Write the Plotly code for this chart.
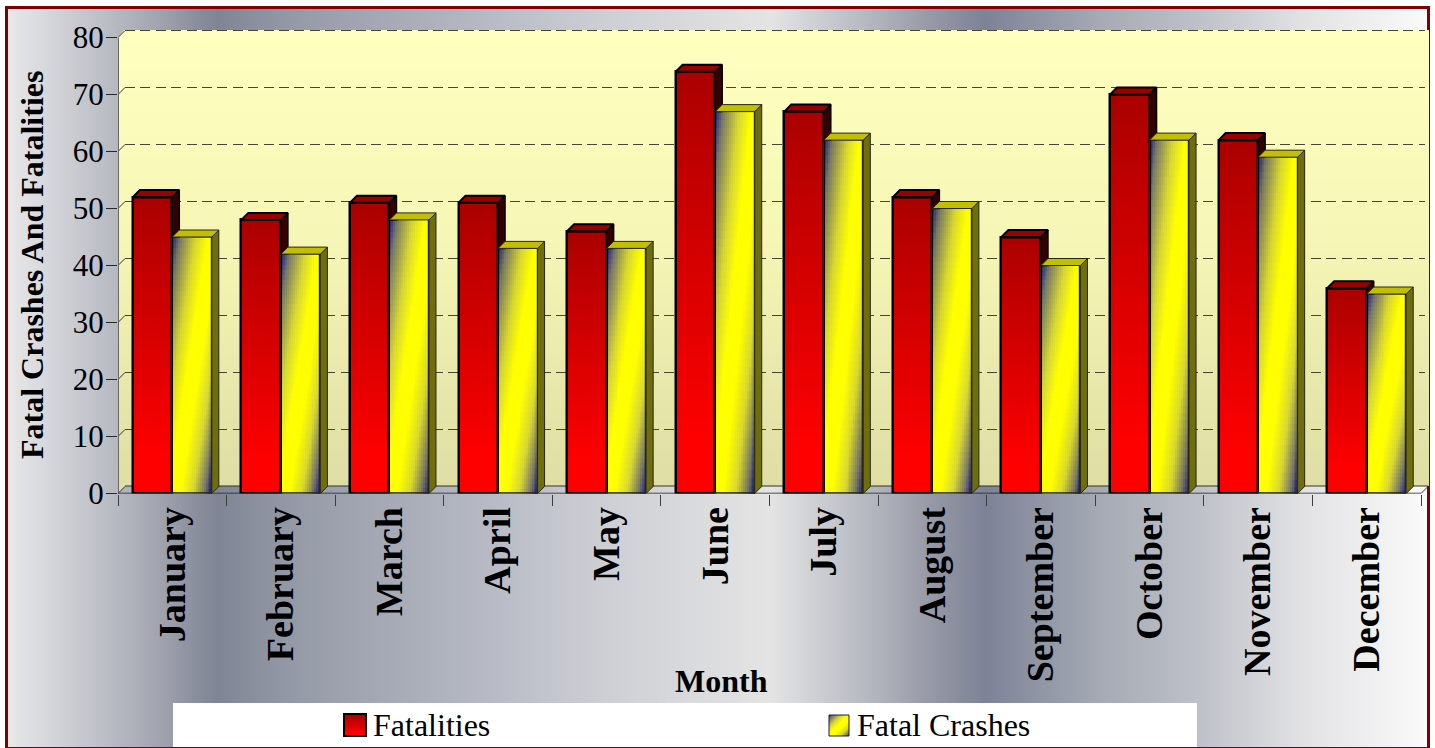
import numpy as np
import plotly.graph_objects as go

months = ["January", "February", "March", "April", "May", "June", "July",
          "August", "September", "October", "November", "December"]
fatalities = [52, 48, 51, 51, 46, 74, 67, 52, 45, 70, 62, 36]
fatal_crashes = [45, 42, 48, 43, 43, 67, 62, 50, 40, 62, 59, 35]
series_names = ["Fatalities", "Fatal Crashes"]
y_ticks = [0, 10, 20, 30, 40, 50, 60, 70, 80]
x_title = "Month"
y_title = "Fatal Crashes And Fatalities"

W, H = 1435, 748
FONT = "Liberation Serif"
FX0, FX1, FY0, FY1 = 118, 1428, 30.5, 493.5     # plot box in pixels
DEPTH = 7
PX_PER_UNIT = 5.7
PX_PER_CAT = 108.58
DY = DEPTH / PX_PER_UNIT
DX = DEPTH / PX_PER_CAT
BAR_W = 0.364


def dom_x(a, b):
    return [a / W, b / W]


def dom_y(top, bot):
    return [1 - bot / H, 1 - top / H]


def rgb(c):
    return "rgb(%d,%d,%d)" % tuple(int(round(v)) for v in c)


def ramp(t, stops):
    ts = [s[0] for s in stops]
    return [np.interp(t, ts, [s[1][k] for s in stops]) for k in range(3)]


page_stops = [(8, (232, 232, 234)), (100, (190, 192, 200)), (170, (155, 158, 170)), (200, (135, 140, 155)),
              (218, (128, 133, 150)), (260, (140, 145, 160)), (300, (150, 155, 168)), (500, (185, 188, 198)),
              (600, (205, 206, 212)), (770, (228, 228, 228)), (850, (190, 192, 200)),
              (930, (150, 153, 166)), (985, (125, 131, 150)), (1100, (165, 170, 180)),
              (1200, (190, 193, 200)), (1300, (225, 225, 228)), (1426, (250, 250, 250))]
wall_stops = [(0, (255, 255, 192)), (0.45, (246, 246, 182)), (1, (222, 222, 165))]
red_stops = [(0, (170, 0, 0)), (0.9, (255, 0, 0)), (1, (255, 0, 0))]
yel_stops = [(0, (25, 25, 130)), (0.10, (120, 120, 100)), (0.30, (215, 215, 50)), (0.45, (255, 255, 0)),
             (0.60, (255, 255, 0)), (0.76, (215, 215, 50)), (0.90, (120, 120, 100)), (1, (25, 25, 130))]


def scale(stops):
    lo, hi = stops[0][0], stops[-1][0]
    return [[(s[0] - lo) / (hi - lo), rgb(s[1])] for s in stops]


fig = go.Figure()

# ---- page and wall gradients, pixel-addressed background subplot (x / y are cell edges)
page_edges = np.arange(8, 1427, 2)
page_mid = (page_edges[:-1] + page_edges[1:]) / 2
fig.add_trace(go.Heatmap(x=page_edges, y=[9, 747], z=[page_mid], colorscale=scale(page_stops),
                         zmin=8, zmax=1426, showscale=False, hoverinfo="skip", xaxis="x", yaxis="y"))
wall_edges = np.arange(30, 487, 3)
fig.add_trace(go.Heatmap(x=[118, 1429], y=wall_edges, z=[[(v - 30) / 456] for v in wall_edges[:-1]],
                         colorscale=scale(wall_stops), zmin=0, zmax=1, showscale=False,
                         hoverinfo="skip", xaxis="x", yaxis="y"))


def bg_poly(xs, ys, fill, line=None, width=0):
    fig.add_trace(go.Scatter(x=xs, y=ys, mode="lines", fill="toself", fillcolor=fill,
                             line=dict(color=line or fill, width=width), hoverinfo="skip",
                             showlegend=False, xaxis="x", yaxis="y"))


bg_poly([118, 125, 118, 118], [29, 29, 37, 29], "rgb(178,180,192)")
bg_poly([118, 125, 118, 118], [486, 486, 493, 486], "rgb(222,222,165)")
bg_poly([173, 1197, 1197, 173, 173], [703, 703, 747, 747, 703], "white")
fig.add_trace(go.Scatter(x=[125, 1428], y=[486, 486], mode="lines",
                         line=dict(color="rgb(50,50,40)", width=1), hoverinfo="skip",
                         showlegend=False, xaxis="x", yaxis="y"))

# ---- gradient bars, all derived from the series values
N_ROWS = 40
rx, rb, ry, rc = [], [], [], []
for j in range(N_ROWS):
    for m, v in zip(months, fatalities):
        rx.append(m)
        rb.append(v * j / N_ROWS)
        ry.append(v * (1 - j / N_ROWS))
        rc.append(rgb(ramp(1 - j / N_ROWS, red_stops)))
fig.add_trace(go.Bar(x=rx, y=ry, base=rb, width=BAR_W, offset=-BAR_W,
                     marker=dict(color=rc, line=dict(width=0)), hoverinfo="skip",
                     showlegend=False, xaxis="x3", yaxis="y3"))

NU, NV = 20, 48
yx, yb, yy, yo, yw, yc = [], [], [], [], [], []
for j in range(NV):
    for i in range(NU):
        u, vv = (i + 0.5) / NU, 1 - (j + 0.5) / NV
        col = rgb(ramp((u + vv) / 2, yel_stops))
        for m, v in zip(months, fatal_crashes):
            yx.append(m)
            yb.append(v * j / NV)
            yy.append(v * (1 - j / NV))
            yo.append(BAR_W * i / NU)
            yw.append(BAR_W * (1 - i / NU))
            yc.append(col)
fig.add_trace(go.Bar(x=yx, y=yy, base=yb, width=yw, offset=yo,
                     marker=dict(color=yc, line=dict(width=0)), hoverinfo="skip",
                     showlegend=False, xaxis="x3", yaxis="y3"))

fig.add_trace(go.Bar(x=months, y=fatalities, name=series_names[0], width=BAR_W, offset=-BAR_W,
                     marker=dict(color="rgba(0,0,0,0)", line=dict(color="black", width=2.5)),
                     showlegend=False, xaxis="x3", yaxis="y3"))
fig.add_trace(go.Bar(x=months, y=fatal_crashes, name=series_names[1], width=BAR_W, offset=0,
                     marker=dict(color="rgba(0,0,0,0)", line=dict(color="rgb(40,40,20)", width=1.2)),
                     showlegend=False, xaxis="x3", yaxis="y3"))


# ---- 3-D faces, built from the same values on a linear twin of the category axis
def faces(values, left, right, lower=None):
    tx, ty, sx, sy = [], [], [], []
    for k, v in enumerate(values):
        a, b = k + left, k + right
        tx += [a, a + DX, b + DX, b, a, None]
        ty += [v, v + DY, v + DY, v, v, None]
        low = lower[k] if lower is not None else 0
        low2 = low if lower is not None else DY
        sx += [b, b + DX, b + DX, b, b, None]
        sy += [v, v + DY, low2, low, v, None]
    return tx, ty, sx, sy


def face_trace(xs, ys, fill, line, width):
    fig.add_trace(go.Scatter(x=xs, y=ys, mode="lines", fill="toself", fillcolor=fill,
                             line=dict(color=line, width=width), hoverinfo="skip",
                             cliponaxis=False, showlegend=False, xaxis="x6", yaxis="y3"))


rt_x, rt_y, rs_x, rs_y = faces(fatalities, -BAR_W, 0, fatal_crashes)
yt_x, yt_y, ys_x, ys_y = faces(fatal_crashes, 0, BAR_W)
face_trace(rs_x, rs_y, "rgb(52,0,0)", "black", 1.5)
face_trace(rt_x, rt_y, "rgb(155,0,0)", "black", 2)
face_trace(ys_x, ys_y, "rgb(110,110,15)", "rgb(40,40,20)", 1)
face_trace(yt_x, yt_y, "rgb(195,190,0)", "rgb(40,40,20)", 1)

# axis edge lines and the little diagonals joining ticks to the back wall
dx_, dy_ = [], []
for v in y_ticks:
    dx_ += [-0.5, -0.5 + DX, None]
    dy_ += [v, v + DY, None]
dx_ += [11.5, 11.5 + DX, None]
dy_ += [0, DY, None]
fig.add_trace(go.Scatter(x=dx_, y=dy_, mode="lines", line=dict(color="rgb(50,50,40)", width=1),
                         hoverinfo="skip", cliponaxis=False, showlegend=False, xaxis="x6", yaxis="y3"))
fig.add_trace(go.Scatter(x=[-0.5, -0.5], y=[0, 80], mode="lines", line=dict(color="rgb(105,105,100)", width=2),
                         hoverinfo="skip", cliponaxis=False, showlegend=False, xaxis="x6", yaxis="y3"))
fig.add_trace(go.Scatter(x=[-0.5, 11.5], y=[0, 0], mode="lines", line=dict(color="rgb(30,30,30)", width=1.5),
                         hoverinfo="skip", cliponaxis=False, showlegend=False, xaxis="x6", yaxis="y3"))

# ---- legend swatches
sw = np.linspace(0, 1, 22)
fig.add_trace(go.Heatmap(x=sw, y=sw, z=[[1 - b] * 22 for b in sw], colorscale=scale(red_stops),
                         zmin=0, zmax=1, showscale=False, hoverinfo="skip", xaxis="x4", yaxis="y4"))
fig.add_trace(go.Heatmap(x=sw, y=sw, z=[[(a + 1 - b) / 2 for a in sw] for b in sw],
                         colorscale=scale(yel_stops), zmin=0, zmax=1, showscale=False,
                         hoverinfo="skip", xaxis="x5", yaxis="y5"))

hidden = dict(visible=False, showgrid=False, zeroline=False, fixedrange=True, automargin=False)
tick_font = dict(family=FONT, size=31, color="black")
label_font = dict(family=FONT, size=38, color="black", weight=700)
title_font = dict(family=FONT, size=32, color="black", weight=700)
legend_font = dict(family=FONT, size=32, color="black")

fig.update_layout(
    width=W, height=H, margin=dict(l=0, r=0, t=0, b=0, autoexpand=False), autosize=False,
    paper_bgcolor="white", plot_bgcolor="rgba(0,0,0,0)", barmode="overlay", bargap=0,
    showlegend=False, font=dict(family=FONT, color="black"),
    xaxis=dict(hidden, domain=[0, 1], range=[0, W]),
    yaxis=dict(hidden, domain=[0, 1], range=[H, 0]),
    xaxis2=dict(hidden, visible=True, showticklabels=False, ticks="", showline=False,
                domain=dom_x(125, 1425), range=[0, 1], anchor="y2"),
    yaxis2=dict(fixedrange=True, automargin=False, domain=dom_y(27, 486), range=[0, 80 * 459 / 456],
                tickvals=y_ticks, anchor="x2",
                showticklabels=False, ticks="", showline=False, zeroline=False, showgrid=True,
                gridcolor="rgb(70,70,50)", gridwidth=1, griddash="10px,5.4px"),
    xaxis3=dict(type="category", categoryorder="array", categoryarray=months, tickson="boundaries",
                automargin=False,
                domain=dom_x(FX0, FX1), range=[-0.5, 11.5 + DX], anchor="y3", showgrid=False,
                zeroline=False, showline=False, ticks="outside", ticklen=11, tickwidth=1,
                tickcolor="rgb(60,60,60)", tickangle=-90, tickfont=label_font, fixedrange=True,
                ticklabelstandoff=5),
    yaxis3=dict(automargin=False, domain=dom_y(FY0, FY1), range=[0, 80 + DY], anchor="x3", tickvals=y_ticks,
                showgrid=False, zeroline=False, showline=False, ticks="outside", ticklen=11,
                tickwidth=1, tickcolor="rgb(40,40,40)", tickfont=tick_font, fixedrange=True,
                ticklabelstandoff=-4),
    xaxis6=dict(hidden, overlaying="x3", domain=dom_x(FX0, FX1), range=[-0.5, 11.5 + DX], anchor="y3"),
    xaxis4=dict(hidden, domain=dom_x(344, 366), range=[0, 1], anchor="y4"),
    yaxis4=dict(hidden, domain=dom_y(714, 736), range=[0, 1], autorange=False, anchor="x4"),
    xaxis5=dict(hidden, domain=dom_x(829, 849), range=[0, 1], anchor="y5"),
    yaxis5=dict(hidden, domain=dom_y(715, 736), range=[0, 1], anchor="x5"),
    shapes=[
        dict(type="rect", xref="paper", yref="paper", x0=6.5 / W, x1=1428.5 / W, y0=1 - 748.5 / H, y1=1 - 7.5 / H,
             line=dict(color="rgb(128,0,0)", width=3), layer="below"),
        dict(type="rect", xref="paper", yref="paper", x0=344 / W, x1=366 / W, y0=1 - 736 / H, y1=1 - 714 / H,
             line=dict(color="black", width=2), layer="above"),
        dict(type="rect", xref="paper", yref="paper", x0=829 / W, x1=849 / W, y0=1 - 736 / H, y1=1 - 715 / H,
             line=dict(color="rgb(30,30,50)", width=1), layer="above"),
    ],
    annotations=[
        dict(text=x_title, xref="paper", yref="paper", x=721 / W, y=1 - 681 / H, showarrow=False,
             font=title_font, xanchor="center", yanchor="middle"),
        dict(text=y_title, xref="paper", yref="paper", x=32 / W, y=1 - 265 / H, showarrow=False,
             font=title_font, xanchor="center", yanchor="middle", textangle=-90),
        dict(text=series_names[0], xref="paper", yref="paper", x=371 / W, y=1 - 725 / H, showarrow=False,
             font=legend_font, xanchor="left", yanchor="middle"),
        dict(text=series_names[1], xref="paper", yref="paper", x=855 / W, y=1 - 725 / H, showarrow=False,
             font=legend_font, xanchor="left", yanchor="middle"),
    ],
)
# grid subplot needs one trace to exist
fig.add_trace(go.Scatter(x=[0], y=[0], mode="none", hoverinfo="skip", showlegend=False, xaxis="x2", yaxis="y2"))

fig.write_html("out.html", config={"displayModeBar": False},
               post_script="document.body.style.margin='0';document.body.style.overflow='hidden';")
